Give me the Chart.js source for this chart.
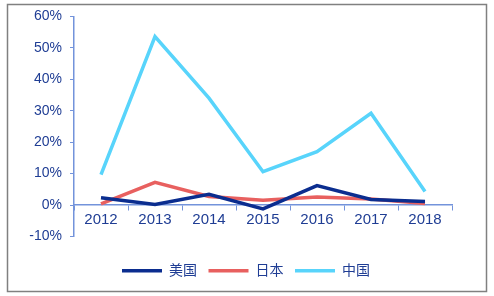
<!DOCTYPE html>
<html><head><meta charset="utf-8">
<script src="https://cdn.jsdelivr.net/npm/chart.js@4/dist/chart.umd.min.js"></script>
<style>html,body{margin:0;padding:0;background:#fff}#wrap{width:494px;height:296px}</style>
</head><body><div id="wrap"><canvas id="c" width="494" height="296"></canvas></div>
<script>
const categories = ['2012','2013','2014','2015','2016','2017','2018'];
const seriesNames = ['美国','日本','中国'];
const usValues = [2.3, 0.2, 3.4, -1.2, 6.2, 1.8, 1.1];
const japanValues = [0.4, 7.2, 2.7, 1.5, 2.6, 1.9, 0.5];
const chinaValues = [9.7, 53.6, 34.0, 10.6, 17.0, 29.2, 4.3];
const yTicks = [-10, 0, 10, 20, 30, 40, 50, 60];

const FONT = '"Liberation Sans", Arial, "Noto Sans CJK SC", sans-serif';
const AXIS = '#7393db';
const TXT = '#1f3d94';

const frame = {
  id: 'frame',
  beforeDraw(chart) {
    const ctx = chart.ctx;
    ctx.save();
    ctx.fillStyle = '#fff';
    ctx.fillRect(0, 0, chart.width, chart.height);
    ctx.strokeStyle = '#808080';
    ctx.lineWidth = 1.5;
    ctx.strokeRect(7.5, 4.5, 479, 287);
    ctx.restore();
  }
};

const legendShift = {
  id: 'legendShift',
  afterLayout(chart) {
    const l = chart.legend;
    if (!l) return;
    const dy = 270 - (l.top + l.height / 2);
    l.top += dy;
    l.bottom += dy;
    const dx = 246 - (l.left + l.right) / 2;
    l.left += dx;
    l.right += dx;
  }
};

new Chart(document.getElementById('c'), {
  type: 'line',
  data: {
    labels: categories,
    datasets: [
      {label: seriesNames[0], data: usValues, borderColor: '#0b2d8f', backgroundColor: '#0b2d8f'},
      {label: seriesNames[1], data: japanValues, borderColor: '#e8605f', backgroundColor: '#e8605f'},
      {label: seriesNames[2], data: chinaValues, borderColor: '#58d4fb', backgroundColor: '#58d4fb'}
    ].map(d => Object.assign(d, {borderWidth: 3.5, pointRadius: 0, tension: 0, fill: false}))
  },
  options: {
    responsive: false,
    animation: false,
    devicePixelRatio: 1,
    layout: {padding: {left: 0, top: 16, right: 42, bottom: 24}},
    plugins: {
      legend: {
        position: 'bottom',
        labels: {
          usePointStyle: true,
          pointStyle: 'line',
          pointStyleWidth: 40,
          color: TXT,
          font: {family: FONT, size: 14},
          padding: 11.5
        }
      },
      tooltip: {enabled: false}
    },
    scales: {
      x: {
        position: {y: 0},
        offset: true,
        grid: {drawOnChartArea: false, drawTicks: true, tickLength: 5, color: AXIS, offset: true},
        border: {color: AXIS, width: 1.5},
        ticks: {color: TXT, font: {family: FONT, size: 15}, padding: 1, maxRotation: 0}
      },
      y: {
        min: -10, max: 60,
        afterFit(s) { s.width = 74; },
        afterBuildTicks(s) { s.ticks = yTicks.map(v => ({value: v})); },
        grid: {drawOnChartArea: false, drawTicks: true, tickLength: 4, color: AXIS},
        border: {color: AXIS, width: 1.5},
        ticks: {color: TXT, font: {family: FONT, size: 14}, padding: 8, callback: v => v + '%'}
      }
    }
  },
  plugins: [frame, legendShift]
});
</script></body></html>
